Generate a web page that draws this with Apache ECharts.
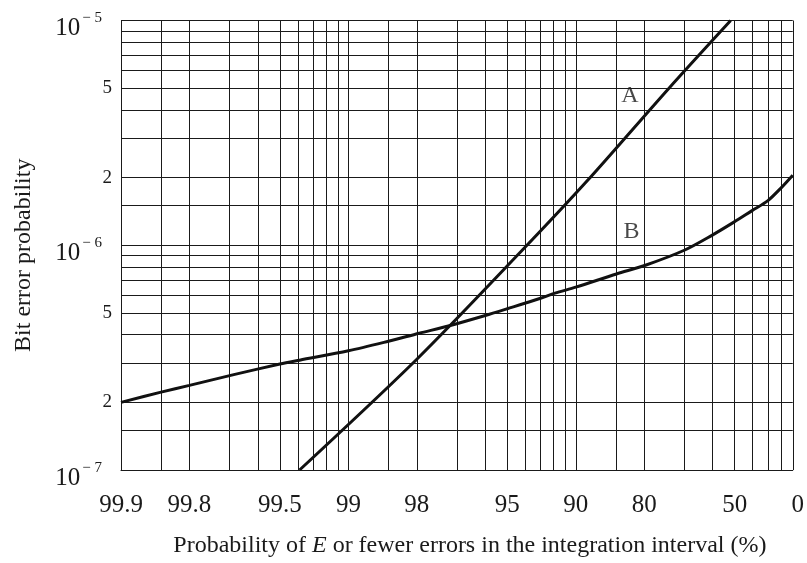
<!DOCTYPE html>
<html>
<head>
<meta charset="utf-8">
<script src="https://cdn.jsdelivr.net/npm/echarts@6/dist/echarts.min.js"></script>
<style>
  html, body { margin: 0; padding: 0; background: #fff; }
  #chart { width: 807px; height: 563px; }
</style>
</head>
<body>
<div id="chart"></div>
<script>
// probability of E or fewer errors (%) on x, bit error probability on y
var curveA = [
  [99.39, 1.0e-7], [98.0, 3.11e-7], [94.3, 9.3e-7],
  [88.8, 1.93e-6], [74.3, 5.0e-6], [52.0, 1.0e-5]
];
var curveB = [
  [99.9, 2.0e-7], [99.85, 2.22e-7], [99.8, 2.38e-7], [99.69, 2.65e-7],
  [99.5, 2.96e-7], [99.39, 3.08e-7], [99.0, 3.39e-7], [98.5, 3.74e-7],
  [97.95, 4.06e-7], [97.25, 4.37e-7], [96.0, 4.87e-7], [95.0, 5.22e-7],
  [93.0, 5.81e-7], [91.9, 6.12e-7], [90.0, 6.51e-7], [84.9, 7.45e-7],
  [79.6, 8.17e-7], [70.0, 9.5e-7], [60.3, 1.107e-6], [50.4, 1.267e-6],
  [40.4, 1.426e-6], [30.0, 1.58e-6], [19.6, 1.81e-6], [10.0, 2.05e-6]
];
var curveLabels = [
  ['A', 82.7, 4.62e-6],
  ['B', 82.4, 1.145e-6]
];

// x axis runs on 100 - p (log scale)
var xGridValues = [0.1, 0.15, 0.2, 0.3, 0.4, 0.5, 0.6, 0.7, 0.8, 0.9,
  1, 1.5, 2, 3, 4, 5, 6, 7, 8, 9,
  10, 15, 20, 30, 40, 50, 60, 70, 80, 90];
var xLabelValues = [0.1, 0.2, 0.5, 1, 2, 5, 10, 20, 50, 90];
var xTickLabels = ['99.9', '99.8', '99.5', '99', '98', '95', '90', '80', '50', '0'];

var yGridValues = [1e-7, 1.5e-7, 2e-7, 3e-7, 4e-7, 5e-7, 6e-7, 7e-7, 8e-7, 9e-7,
  1e-6, 1.5e-6, 2e-6, 3e-6, 4e-6, 5e-6, 6e-6, 7e-6, 8e-6, 9e-6, 1e-5];
var yLabelValues = [1e-7, 2e-7, 5e-7, 1e-6, 2e-6, 5e-6, 1e-5];
var yTickLabels = ['10^-7', '2', '5', '10^-6', '2', '5', '10^-5'];

var serif = 'Liberation Serif';
var ink = '#1a1a1a';

function toXY(arr) {
  return arr.map(function (d) { return [100 - d[0], d[1]]; });
}

// find the label whose value is closest (in log terms) to v
function pickLabel(values, texts, v) {
  var best = 0, bestD = Infinity;
  for (var i = 0; i < values.length; i++) {
    var d = Math.abs(Math.log(v) - Math.log(values[i]));
    if (d < bestD) { bestD = d; best = i; }
  }
  return texts[best];
}

var chart = echarts.init(document.getElementById('chart'));
chart.setOption({
  animation: false,
  backgroundColor: '#fff',
  grid: { left: 121, right: 14, top: 18, bottom: 91 },
  xAxis: {
    type: 'log',
    logBase: 10,
    min: 0.1,
    max: 90,
    name: 'Probability of {i|E} or fewer errors in the integration interval (%)',
    nameLocation: 'middle',
    nameGap: 64,
    nameTextStyle: {
      fontFamily: serif, fontSize: 24, color: ink, padding: [0, 0, 0, 26],
      rich: { i: { fontFamily: serif, fontSize: 24, fontStyle: 'italic', color: ink } }
    },
    axisLine: { show: true, lineStyle: { color: ink, width: 1 } },
    axisTick: { show: false, customValues: xGridValues },
    splitLine: { show: true, lineStyle: { color: ink, width: 1 } },
    axisLabel: {
      customValues: xLabelValues,
      margin: 23,
      fontFamily: serif,
      fontSize: 25,
      color: ink,
      formatter: function (v) {
        var t = pickLabel(xLabelValues, xTickLabels, v);
        return t === '0' ? '{z|0}' : t;
      },
      rich: { z: { fontFamily: serif, fontSize: 25, color: ink, padding: [0, 0, 0, 10] } }
    }
  },
  yAxis: {
    type: 'log',
    logBase: 10,
    min: 1e-7,
    max: 1e-5,
    name: 'Bit error probability',
    nameLocation: 'middle',
    nameGap: 85,
    nameTextStyle: { fontFamily: serif, fontSize: 24, color: ink, padding: [0, 20, 0, 0] },
    axisLine: { show: true, lineStyle: { color: ink, width: 1 } },
    axisTick: { show: false, customValues: yGridValues },
    splitLine: { show: true, lineStyle: { color: ink, width: 1 } },
    axisLabel: {
      customValues: yLabelValues,
      margin: 9,
      fontFamily: serif,
      fontSize: 19,
      color: ink,
      formatter: function (v) {
        var t = pickLabel(yLabelValues, yTickLabels, v);
        if (t.indexOf('^') > 0) {
          var exp = t.split('^')[1].replace('-', '\u2212 ');
          return '{b|10}{s|' + exp + '}';
        }
        return '{n|' + t + '}';
      },
      rich: {
        n: { fontFamily: serif, fontSize: 19, color: ink },
        b: { fontFamily: serif, fontSize: 25, height: 25, lineHeight: 41, color: ink,
             verticalAlign: 'bottom' },
        s: { fontFamily: serif, fontSize: 15, height: 37, lineHeight: 41, color: ink,
             verticalAlign: 'top', padding: [0, 10, 0, 2] }
      }
    }
  },
  series: [
    {
      name: 'A', type: 'line', data: toXY(curveA), smooth: 0.3,
      showSymbol: false, lineStyle: { color: '#111', width: 3 }
    },
    {
      name: 'B', type: 'line', data: toXY(curveB), smooth: 0.3,
      showSymbol: false, lineStyle: { color: '#111', width: 3 }
    },
    {
      type: 'scatter', symbolSize: 0,
      data: curveLabels.map(function (d) { return { name: d[0], value: [100 - d[1], d[2]] }; }),
      label: {
        show: true, position: 'inside', formatter: '{b}',
        fontFamily: serif, fontSize: 24, color: ink
      }
    }
  ]
});
</script>
</body>
</html>
